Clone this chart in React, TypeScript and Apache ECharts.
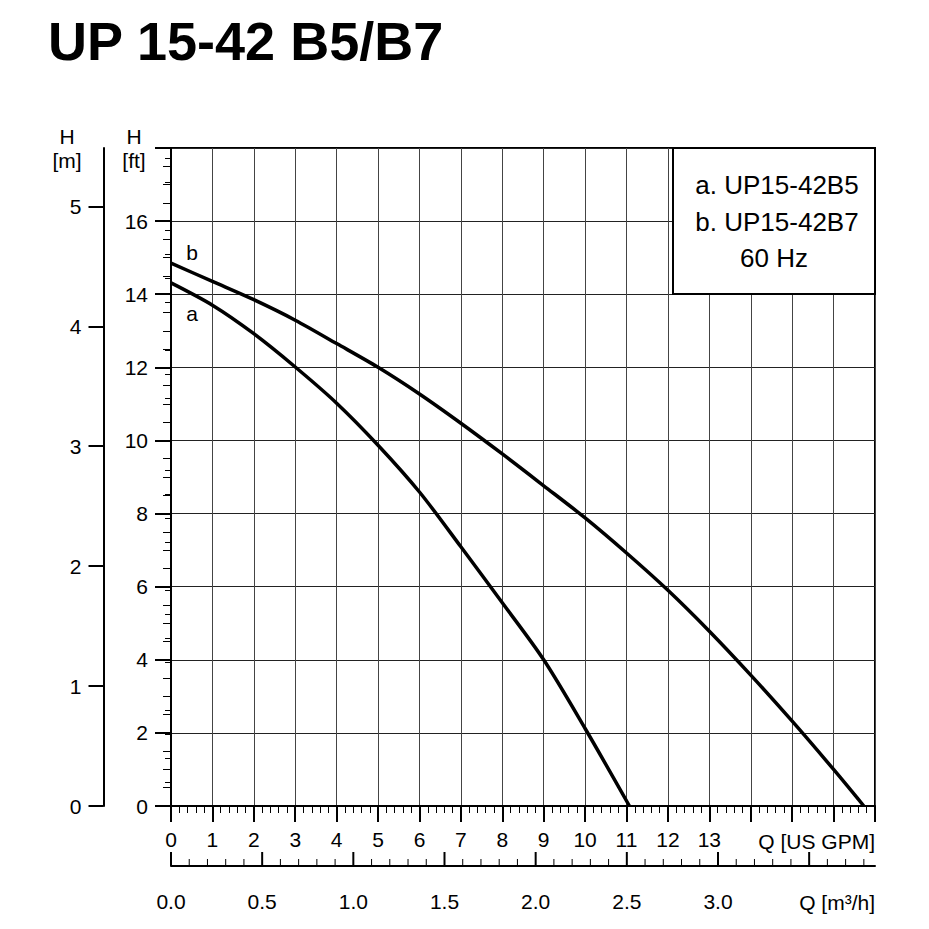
import React, { useEffect, useRef } from "react";
import * as echarts from "echarts";

// Unit conversions
const FT_PER_M = 3.28084;
const M3H_PER_GPM = 0.2271247;

// Axis ranges
const Q_MAX_GPM = 17;
const H_MAX_FT = 18;

// Curve a: UP15-42B5 (Q in US GPM, H in ft)
const qA = [0, 1, 2, 3, 4, 5, 6, 7, 8, 9, 10, 11.07];
const hA = [14.31, 13.7, 12.92, 12.01, 11.02, 9.87, 8.59, 7.09, 5.56, 4.0, 2.12, 0];

// Curve b: UP15-42B7
const qB = [0, 1, 2, 3, 4, 5, 6, 7, 8, 9, 10, 11, 12, 13, 14, 15, 16, 16.73];
const hB = [14.85, 14.35, 13.85, 13.29, 12.65, 12.0, 11.27, 10.47, 9.63, 8.76, 7.88, 6.92, 5.9, 4.78, 3.58, 2.32, 1.0, 0];

// Tick labels
const gpmLabelMax = 13;
const ftLabelMax = 16;
const m3hLabels = [0, 0.5, 1, 1.5, 2, 2.5, 3];
const mMajor = [0, 1, 2, 3, 4, 5];

// m³/h tick positions (every 0.1, major every 0.5)
const m3hTicks: number[] = [];
for (let i = 0; i <= 38; i++) m3hTicks.push(i / 10);
// m minor tick positions (every 0.2)
const mMinor: number[] = [];
for (let i = 1; i <= 27; i++) if (i % 5 !== 0) mMinor.push(i / 5);

const FONT = '"Liberation Sans", Arial, Helvetica, sans-serif';

export default function App() {
  const ref = useRef<HTMLDivElement>(null);

  useEffect(() => {
    if (!ref.current) return;
    const chart = echarts.init(ref.current, null, { renderer: "svg" });

    const gridL = 171, gridT = 148, gridW = 704, gridH = 658;
    const m3hAxisY = gridT + gridH + 60;
    const lbl = { color: "#000", fontSize: 21, fontFamily: FONT };

    const text = (t: string, x: number, y: number, size: number, align = "center", weight = "normal") => ({
      type: "text",
      z: 110,
      style: {
        text: t, x, y,
        font: `${weight} ${size}px ${FONT}`,
        fill: "#000",
        align, textAlign: align,
        verticalAlign: "middle", textVerticalAlign: "middle",
      },
    });

    const option: any = {
      animation: false,
      backgroundColor: "#fff",
      grid: [
        {
          left: gridL, top: gridT, width: gridW, height: gridH,
          show: true, borderColor: "#000", borderWidth: 2, backgroundColor: "transparent",
        },
        // m³/h scale band: axis line on its bottom edge
        { left: gridL, top: m3hAxisY - 14, width: gridW, height: 14, show: false },
      ],
      xAxis: [
        {
          gridIndex: 0, type: "value", min: 0, max: Q_MAX_GPM, interval: 1, position: "bottom",
          axisLine: { show: true, onZero: false, lineStyle: { color: "#000", width: 2 } },
          axisTick: { show: true, length: 16, lineStyle: { color: "#000", width: 2 } },
          minorTick: { show: true, splitNumber: 5, length: 7, lineStyle: { color: "#000", width: 1 } },
          axisLabel: { ...lbl, margin: 23, formatter: (v: number) => (v <= gpmLabelMax ? String(v) : "") },
          splitLine: { show: true, lineStyle: { color: "#444", width: 1 } },
        },
        {
          gridIndex: 1, type: "value", min: 0, max: Q_MAX_GPM * M3H_PER_GPM, interval: 0.5, position: "bottom",
          axisLine: { show: true, onZero: false, lineStyle: { color: "#000", width: 2 } },
          axisTick: { show: false },
          axisLabel: {
            ...lbl, margin: 25, customValues: m3hLabels,
            formatter: (v: number) => (m3hLabels.indexOf(v) >= 0 ? v.toFixed(1) : ""),
          },
          splitLine: { show: false },
        },
      ],
      yAxis: [
        {
          gridIndex: 0, type: "value", min: 0, max: H_MAX_FT, interval: 2, position: "left",
          axisLine: { show: true, onZero: false, lineStyle: { color: "#000", width: 2 } },
          axisTick: { show: true, length: 16, lineStyle: { color: "#000", width: 2 } },
          minorTick: { show: true, splitNumber: 4, length: 8, lineStyle: { color: "#000", width: 1 } },
          axisLabel: { ...lbl, margin: 23, formatter: (v: number) => (v <= ftLabelMax ? String(v) : "") },
          splitLine: { show: true, lineStyle: { color: "#222", width: 1 } },
        },
        {
          gridIndex: 0, type: "value", min: 0, max: H_MAX_FT / FT_PER_M, interval: 1, position: "left", offset: 67.5,
          axisLine: { show: true, onZero: false, lineStyle: { color: "#000", width: 2 } },
          axisTick: { show: true, customValues: mMajor, length: 15, lineStyle: { color: "#000", width: 2 } },
          axisLabel: { ...lbl, margin: 22, customValues: mMajor, formatter: (v: number) => String(v) },
          splitLine: { show: false },
        },
        {
          gridIndex: 0, type: "value", min: 0, max: H_MAX_FT / FT_PER_M, interval: 0.2, position: "left", offset: 67.5,
          axisLine: { show: false },
          axisTick: { show: true, customValues: mMinor, length: 6, lineStyle: { color: "#000", width: 1 } },
          axisLabel: { show: false },
          splitLine: { show: false },
        },
        { gridIndex: 1, type: "value", min: 0, max: 1, show: false },
      ],
      series: [
        {
          name: "a", type: "line", xAxisIndex: 0, yAxisIndex: 0,
          data: qA.map((q, i) => [q, hA[i]]),
          symbol: "none", smooth: 0.3,
          lineStyle: { color: "#000", width: 3.5 }, z: 20,
        },
        {
          name: "b", type: "line", xAxisIndex: 0, yAxisIndex: 0,
          data: qB.map((q, i) => [q, hB[i]]),
          symbol: "none", smooth: 0.3,
          lineStyle: { color: "#000", width: 3.5 }, z: 20,
        },
        {
          name: "m3h-ticks", type: "custom", xAxisIndex: 1, yAxisIndex: 3, clip: false, silent: true, z: 50,
          data: m3hTicks.map((v, i) => [v, i % 5 === 0 ? 1 : 0]),
          renderItem: (_p: any, api: any) => {
            const major = api.value(1) === 1;
            const p1 = api.coord([api.value(0), 0]);
            const p2 = api.coord([api.value(0), major ? 1 : 0.5]);
            return {
              type: "line",
              shape: { x1: p1[0], y1: p1[1], x2: p2[0], y2: p2[1] },
              style: { stroke: "#000", lineWidth: major ? 2 : 1 },
            };
          },
        },
      ],
      graphic: [
        text("UP 15-42 B5/B7", 48, 41, 54, "left", "bold"),
        text("H", 67, 136, 21),
        text("[m]", 67, 160, 21),
        text("H", 134, 136, 21),
        text("[ft]", 134, 160, 21),
        text("b", 192, 252, 21),
        text("a", 192, 313, 21),
        {
          type: "rect", z: 100,
          shape: { x: 673, y: 148, width: 202, height: 146 },
          style: { fill: "#fff", stroke: "#000", lineWidth: 2 },
        },
        text("a. UP15-42B5", 777, 185, 26),
        text("b. UP15-42B7", 777, 221.5, 26),
        text("60 Hz", 774, 258, 26),
        text("Q [US GPM]", 875, 841, 21, "right"),
        text("Q [m³/h]", 875, 902, 21, "right"),
      ],
    };

    chart.setOption(option);
    return () => chart.dispose();
  }, []);

  return (
    <div
      ref={ref}
      style={{ position: "fixed", left: 0, top: 0, width: 929, height: 929, background: "#fff" }}
    />
  );
}
